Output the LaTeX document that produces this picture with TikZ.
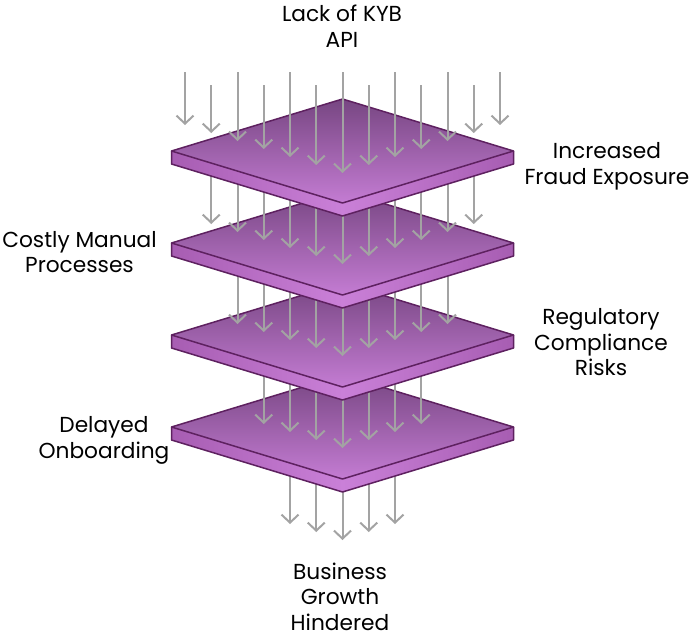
\documentclass[tikz,border=0pt]{standalone}
\usepackage{fontspec}
\setmainfont{Poppins}
\usetikzlibrary{arrows.meta}
\definecolor{facetop}{HTML}{774682}
\definecolor{facebot}{HTML}{C47CD3}
\definecolor{sideend}{HTML}{A75DB2}
\definecolor{sidemid}{HTML}{CA80D8}
\definecolor{edgecol}{HTML}{5E2160}
\definecolor{arrcol}{HTML}{A3A3A3}
\tikzset{
  flow/.style={draw=arrcol, line width=2pt, -{Straight Barb[length=8pt,width=17pt]}},
  lbl/.style={font=\fontsize{21.7}{25.5}\selectfont, align=center, anchor=base, inner sep=0pt},
  platetop/.style={top color=facetop, bottom color=facebot},
  plateside/.style={left color=sideend, right color=sideend, middle color=sidemid},
  plateedge/.style={draw=edgecol, line width=1.5pt, line join=round},
}
\newcommand\myplate[1]{%
  \fill[plateside] (171.5,#1) -- (342.5,#1+52) -- (513.5,#1) -- (513.5,#1+13) -- (342.5,#1+65) -- (171.5,#1+13) -- cycle;
  \fill[platetop] (171.5,#1) -- (342.5,#1-52) -- (513.5,#1) -- (342.5,#1+52) -- cycle;
  \draw[plateedge] (171.5,#1) -- (342.5,#1-52) -- (513.5,#1) -- (342.5,#1+52) -- cycle;
  \draw[plateedge] (171.5,#1) -- (171.5,#1+13) -- (342.5,#1+65) -- (513.5,#1+13) -- (513.5,#1);
}
\newcommand\myflows[4]{% n, start y, centre tip y, alternating starts
  \foreach \i in {-#1,...,#1}{%
    \pgfmathsetmacro\xx{342.5+26.25*\i}%
    \pgfmathsetmacro\tip{#3-8*abs(\i)}%
    \pgfmathsetmacro\st{#4==1 ? (mod(abs(\i),2)==1 ? 85 : 72) : #2}%
    \draw[flow] (\xx,\st) -- (\xx,\tip);
  }%
}
\begin{document}
\begin{tikzpicture}[x=1pt,y=-1pt]
\useasboundingbox (0,0) rectangle (694,640);
\myflows{2}{431}{540}{0}
\myplate{427}
\myflows{3}{339}{448}{0}
\myplate{335}
\myflows{4}{247}{356}{0}
\myplate{243}
\myflows{5}{155}{264}{0}
\myplate{151}
\myflows{6}{72}{173}{1}
\node[lbl] (top) at (342,47) {Lack of KYB\\API};
\node[lbl] (fraud) at (607,184) {Increased\\Fraud Exposure};
\node[lbl] (costly) at (79.5,272.5) {Costly Manual\\Processes};
\node[lbl] (reg) at (601,375.5) {Regulatory\\Compliance\\Risks};
\node[lbl] (delay) at (104,458.2) {Delayed\\Onboarding};
\node[lbl] (growth) at (340,630) {Business\\Growth\\Hindered};
\end{tikzpicture}
\end{document}
